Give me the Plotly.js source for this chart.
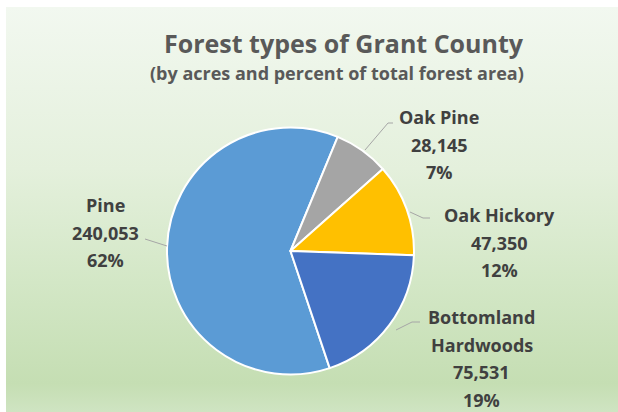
<!DOCTYPE html>
<html>
<head>
<meta charset="utf-8">
<script src="https://cdn.plot.ly/plotly-3.0.1.min.js"></script>
<style>
  html, body { margin: 0; padding: 0; background: #ffffff; }
  #bg { position: absolute; left: 6px; top: 7px; width: 612px; height: 405px;
        background: linear-gradient(to bottom, #f2f8f0 0%, #e4f0dc 40%, #d3e7c6 68%, #c5deb3 93%, #cfe4c2 100%); }
  #chart { position: absolute; left: 0; top: 0; width: 618px; height: 412px; }
</style>
</head>
<body>
<div id="bg"></div>
<div id="chart"></div>
<script>
// Data
const categories = ["Pine", "Oak Pine", "Oak Hickory", "Bottomland Hardwoods"];
const acres = [240053, 28145, 47350, 75531];
const percentLabels = ["62%", "7%", "12%", "19%"];
const nameLines = [["Pine"], ["Oak Pine"], ["Oak Hickory"], ["Bottomland", "Hardwoods"]];
const colors = ["#5B9BD5", "#A5A5A5", "#FFC000", "#4472C4"];

// Layout helpers (pixels in a 618x412 page)
const W = 618, H = 412;
const px = x => x / W;
const py = y => 1 - y / H;

const labelPos = [[105, 205], [439, 117], [499, 215], [482, 317]];
const lineGap = 27.5;
const leaders = [
  [[145, 239], [167, 246]],
  [[393, 123], [388, 123], [365, 150]],
  [[410, 212], [423, 218], [430, 218]],
  [[396, 330], [412, 322], [420, 322]]
];

const fmt = v => v.toLocaleString("en-US");
const FONT = "'Open Sans', Lato, sans-serif";
const labelFont = { family: FONT, size: 18, color: "#404040" };

const annotations = [];
categories.forEach((c, i) => {
  const lines = nameLines[i].concat([fmt(acres[i]), percentLabels[i]]);
  lines.forEach((t, k) => {
    annotations.push({
      xref: "paper", yref: "paper", x: px(labelPos[i][0]), y: py(labelPos[i][1] + k * lineGap),
      xanchor: "center", yanchor: "middle", showarrow: false,
      text: "<b>" + t + "</b>", font: labelFont
    });
  });
});
annotations.push({
  xref: "paper", yref: "paper", x: px(344), y: py(43), xanchor: "center", yanchor: "middle",
  showarrow: false, text: "<b>Forest types of Grant County</b>",
  font: { family: FONT, size: 25, color: "#595959" }
});
annotations.push({
  xref: "paper", yref: "paper", x: px(337), y: py(73), xanchor: "center", yanchor: "middle",
  showarrow: false, text: "<b>(by acres and percent of total forest area)</b>",
  font: { family: FONT, size: 18, color: "#595959" }
});

const shapes = leaders.map(pts => ({
  type: "path", xref: "paper", yref: "paper",
  path: pts.map((p, k) => (k ? "L" : "M") + px(p[0]) + "," + py(p[1])).join(" "),
  line: { color: "#A6A6A6", width: 1 }
}));

const cx = 290.5, cy = 251, R = 123.5;
const data = [{
  type: "pie",
  labels: categories,
  values: acres,
  sort: false,
  direction: "clockwise",
  rotation: 161.5,
  textinfo: "none",
  hoverinfo: "label+value+percent",
  marker: { colors: colors, line: { color: "#ffffff", width: 2 } },
  domain: { x: [px(cx - R), px(cx + R)], y: [py(cy + R), py(cy - R)] }
}];

const layout = {
  width: W, height: H,
  margin: { l: 0, r: 0, t: 0, b: 0 },
  paper_bgcolor: "rgba(0,0,0,0)",
  plot_bgcolor: "rgba(0,0,0,0)",
  showlegend: false,
  annotations: annotations,
  shapes: shapes
};

Plotly.newPlot("chart", data, layout, { displayModeBar: false, staticPlot: true });
</script>
</body>
</html>
